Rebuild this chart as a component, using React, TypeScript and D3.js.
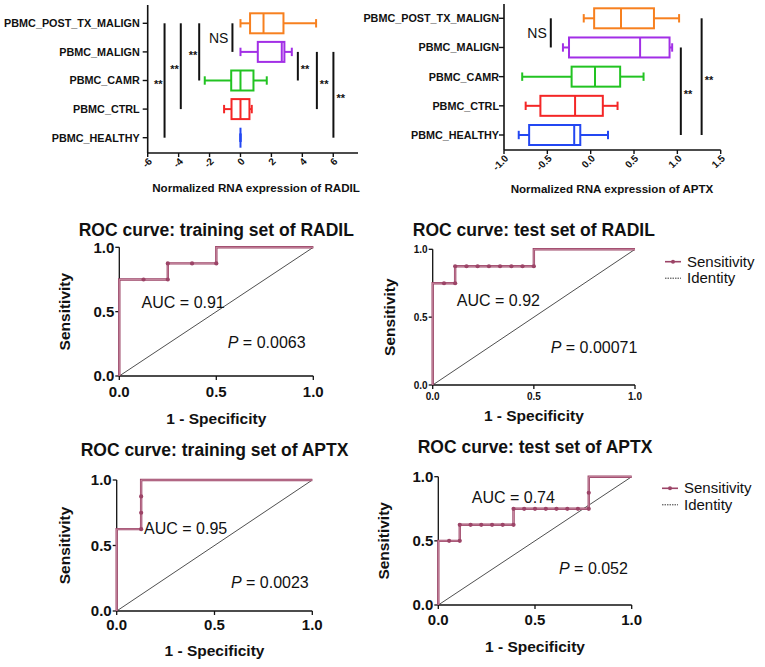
import * as React from 'react'
import * as d3 from 'd3'

const FONT = '"Liberation Sans", Arial, Helvetica, sans-serif'

// groups, top to bottom
const categories = ['PBMC_POST_TX_MALIGN', 'PBMC_MALIGN', 'PBMC_CAMR', 'PBMC_CTRL', 'PBMC_HEALTHY']
const boxColors = ['#f7801f', '#a22fe6', '#22c322', '#f42626', '#2347f2']

// [min, q1, median, q3, max] per group
const radilStats = [
    [0, 0.62, 1.49, 2.78, 4.89],
    [0, 1.12, 2.67, 2.84, 3.32],
    [-2.31, -0.6, 0, 0.84, 1.7],
    [-1.06, -0.58, 0, 0.58, 0.73],
    [0, 0, 0, 0, 0],
]
const aptxStats = [
    [-0.08, 0.04, 0.35, 0.73, 1.02],
    [-0.32, -0.25, 0.57, 0.91, 0.94],
    [-0.79, -0.22, 0.05, 0.34, 0.61],
    [-0.75, -0.58, -0.18, 0.14, 0.31],
    [-0.83, -0.71, -0.19, -0.12, 0.2],
]

// significance bars: value on x axis, from/to group index
const radilSig = [
    { x: -4.91, from: 0, to: 4, label: '**', side: 'left' },
    { x: -3.86, from: 0, to: 3, label: '**', side: 'left' },
    { x: -2.67, from: 0, to: 2, label: '**', side: 'left' },
    { x: -0.52, from: 0, to: 1, label: 'NS', side: 'left' },
    { x: 3.71, from: 1, to: 2, label: '**', side: 'right' },
    { x: 4.94, from: 1, to: 3, label: '**', side: 'right' },
    { x: 6.01, from: 1, to: 4, label: '**', side: 'right' },
]
const aptxSig = [
    { x: -0.46, from: 0, to: 1, label: 'NS', side: 'left' },
    { x: 1.04, from: 1, to: 4, label: '**', side: 'right' },
    { x: 1.28, from: 0, to: 4, label: '**', side: 'right' },
]

const radilTicks = [-6, -4, -2, 0, 2, 4, 6]
const aptxTicks = [-1, -0.5, 0, 0.5, 1, 1.5]
const rocTicks = [0, 0.5, 1]

// ROC curves (1 - specificity, sensitivity)
const radilTrainFpr = [0, 0, 0.125, 0.25, 0.25, 0.375, 0.5, 0.5, 1]
const radilTrainTpr = [0, 0.75, 0.75, 0.75, 0.875, 0.875, 0.875, 1, 1]
const radilTestFpr = [0, 0, 0.056, 0.111, 0.111, 0.167, 0.222, 0.278, 0.333, 0.389, 0.444, 0.5, 0.5, 1]
const radilTestTpr = [0, 0.75, 0.75, 0.75, 0.875, 0.875, 0.875, 0.875, 0.875, 0.875, 0.875, 0.875, 1, 1]
const aptxTrainFpr = [0, 0, 0.125, 0.125, 0.125, 0.125, 1]
const aptxTrainTpr = [0, 0.625, 0.625, 0.75, 0.875, 1, 1]
const aptxTestFpr = [0, 0, 0.056, 0.111, 0.111, 0.167, 0.222, 0.278, 0.333, 0.389, 0.389, 0.444, 0.5, 0.556, 0.611, 0.667, 0.722, 0.778, 0.778, 0.778, 1]
const aptxTestTpr = [0, 0.5, 0.5, 0.5, 0.625, 0.625, 0.625, 0.625, 0.625, 0.625, 0.75, 0.75, 0.75, 0.75, 0.75, 0.75, 0.75, 0.75, 0.875, 1, 1]

const ROC_COLOR = '#9c4467'
const ROC_INNER = '#d9a6b8'

function BoxPanel (p: any) {
    const x = d3.scaleLinear().domain(p.domain).range([p.left, p.right])
    const y = d3.scalePoint<string>().domain(categories).range([p.top, p.bottom])
    const bh = 20
    const cap = 8.4
    const fmt = p.fmt
    return <g fontFamily={FONT}>
        <line x1={p.left} x2={p.left} y1={p.axisTop} y2={p.axisY} stroke='#111' strokeWidth={1.6} />
        <line x1={p.left} x2={p.right} y1={p.axisY} y2={p.axisY} stroke='#111' strokeWidth={1.6} />
        {p.ticks.map((t: number) => <g key={t}>
            <line x1={x(t)} x2={x(t)} y1={p.axisY} y2={p.axisY + 4} stroke='#111' strokeWidth={1.4} />
            <text transform={`translate(${x(t) + 5},${p.axisY + 9}) rotate(-45)`} textAnchor='end'
                fontSize={10} fontWeight='bold' fill='#111'>{fmt(t)}</text>
        </g>)}
        {categories.map(c => <g key={c}>
            <line x1={p.left - 5} x2={p.left} y1={y(c)} y2={y(c)} stroke='#111' strokeWidth={1.4} />
            <text x={p.left - p.labelGap} y={y(c)} dy='0.36em' textAnchor='end' fontSize={10.8}
                fontWeight='bold' fill='#111'>{c}</text>
        </g>)}
        {p.stats.map((s: number[], i: number) => {
            const cy = y(categories[i]) as number
            const col = boxColors[i]
            return <g key={i} stroke={col} strokeWidth={2} fill='none'>
                <line x1={x(s[0])} x2={x(s[1])} y1={cy} y2={cy} />
                <line x1={x(s[3])} x2={x(s[4])} y1={cy} y2={cy} />
                <line x1={x(s[0])} x2={x(s[0])} y1={cy - cap / 2} y2={cy + cap / 2} />
                <line x1={x(s[4])} x2={x(s[4])} y1={cy - cap / 2} y2={cy + cap / 2} />
                <rect x={x(s[1])} y={cy - bh / 2} width={x(s[3]) - x(s[1])} height={bh} fill='#fff' />
                <line x1={x(s[2])} x2={x(s[2])} y1={cy - bh / 2} y2={cy + bh / 2} />
            </g>
        })}
        {p.sig.map((s: any, i: number) => {
            const y1 = y(categories[s.from]) as number
            const y2 = y(categories[s.to]) as number
            const mid = (y1 + y2) / 2
            const ns = s.label === 'NS'
            return <g key={i}>
                <line x1={x(s.x)} x2={x(s.x)} y1={y1} y2={y2} stroke='#111' strokeWidth={2} />
                <text x={s.side === 'left' ? x(s.x) - (ns ? 4 : 2) : x(s.x) + 3}
                    y={ns ? mid + 5 : mid + 7}
                    textAnchor={s.side === 'left' ? 'end' : 'start'}
                    fontSize={ns ? 14 : 11} fontWeight={ns ? 'normal' : 'bold'} fill='#111'>{s.label}</text>
            </g>
        })}
        <text x={p.titleX} y={p.titleY} textAnchor='middle' fontSize={11.6} fontWeight='bold' fill='#111'>{p.title}</text>
    </g>
}

function RocPanel (p: any) {
    const x = d3.scaleLinear().domain([0, 1]).range([p.left, p.right])
    const y = d3.scaleLinear().domain([0, 1]).range([p.bottom, p.top])
    const pts: [number, number][] = p.fpr.map((v: number, i: number) => [v, p.tpr[i]])
    const line = d3.line<[number, number]>().x(d => x(d[0])).y(d => y(d[1]))
    const dots = pts.slice(2, pts.length - 2)
    const fs = p.tickFont
    const midY = (p.top + p.bottom) / 2
    const midX = (p.left + p.right) / 2
    return <g fontFamily={FONT} fill='#111'>
        <text x={midX} y={p.titleY} textAnchor='middle' fontSize={17.5} fontWeight='bold'>{p.title}</text>
        <path d={line([[0, 0], [1, 1]]) || ''} stroke='#222' strokeWidth={0.8} fill='none' />
        <line x1={p.left} x2={p.left} y1={p.top} y2={p.bottom} stroke='#111' strokeWidth={1.3} />
        <line x1={p.left} x2={p.right} y1={p.bottom} y2={p.bottom} stroke='#111' strokeWidth={1.3} />
        {rocTicks.map(t => <g key={t}>
            <line x1={x(t)} x2={x(t)} y1={p.bottom} y2={p.bottom + 4} stroke='#111' strokeWidth={1.3} />
            <line x1={p.left - 4} x2={p.left} y1={y(t)} y2={y(t)} stroke='#111' strokeWidth={1.3} />
            <text x={x(t)} y={p.bottom + p.xLabOff} textAnchor='middle' fontSize={fs} fontWeight='bold'>{t.toFixed(1)}</text>
            <text x={p.left - 5} y={y(t)} dy='0.36em' textAnchor='end' fontSize={fs} fontWeight='bold'>{t.toFixed(1)}</text>
        </g>)}
        <path d={line(pts) || ''} stroke={ROC_COLOR} strokeWidth={2.4} fill='none' />
        <path d={line(pts) || ''} stroke={ROC_INNER} strokeWidth={0.7} fill='none' />
        {dots.map((d, i) => <circle key={i} cx={x(d[0])} cy={y(d[1])} r={2.1} fill={ROC_COLOR} />)}
        <text x={x(p.aucPos[0])} y={y(p.aucPos[1])} fontSize={16}>{p.auc}</text>
        <text x={x(p.pPos[0])} y={y(p.pPos[1])} fontSize={16}><tspan fontStyle='italic'>P</tspan>{' = ' + p.pval}</text>
        <text transform={`translate(${p.yTitleX},${midY}) rotate(-90)`} textAnchor='middle' fontSize={15.5} fontWeight='bold'>Sensitivity</text>
        <text x={midX} y={p.xTitleY} textAnchor='middle' fontSize={15.5} fontWeight='bold'>1 - Specificity</text>
        {p.legend && <g>
            <line x1={p.legend[0]} x2={p.legend[0] + 16} y1={p.legend[1]} y2={p.legend[1]} stroke={ROC_COLOR} strokeWidth={1.6} />
            <circle cx={p.legend[0] + 8} cy={p.legend[1]} r={2} fill={ROC_COLOR} />
            <text x={p.legend[0] + 22} y={p.legend[1] + 5} fontSize={15}>Sensitivity</text>
            <line x1={p.legend[0]} x2={p.legend[0] + 16} y1={p.legend[1] + 16.5} y2={p.legend[1] + 16.5}
                stroke='#222' strokeWidth={0.9} strokeDasharray='1.5,1' />
            <text x={p.legend[0] + 22} y={p.legend[1] + 21.5} fontSize={15}>Identity</text>
        </g>}
    </g>
}

export default function App () {
    return <svg width={765} height={667} style={{ position: 'absolute', left: 0, top: 0, background: '#fff' }}>
        <rect width={765} height={667} fill='#fff' />
        <BoxPanel stats={radilStats} sig={radilSig} left={147.7} right={358} top={23.3} bottom={137.7}
            axisTop={5} axisY={153} domain={[-6, 7.6]} ticks={radilTicks} fmt={(t: number) => String(t)}
            labelGap={8} title='Normalized RNA expression of RADIL' titleX={256} titleY={191.5} />
        <BoxPanel stats={aptxStats} sig={aptxSig} left={504} right={720.7} top={18.3} bottom={135}
            axisTop={4} axisY={150} domain={[-1, 1.5]} ticks={aptxTicks} fmt={(t: number) => t.toFixed(1)}
            labelGap={5} title='Normalized RNA expression of APTX' titleX={612} titleY={193} />
        <RocPanel title='ROC curve: training set of RADIL' fpr={radilTrainFpr} tpr={radilTrainTpr}
            left={119.3} right={313.3} top={247.3} bottom={376} titleY={236} tickFont={15} xLabOff={20.5}
            auc='AUC = 0.91' aucPos={[0.115, 0.526]} pval='0.0063' pPos={[0.559, 0.215]}
            yTitleX={70} xTitleY={424} />
        <RocPanel title='ROC curve: test set of RADIL' fpr={radilTestFpr} tpr={radilTestTpr}
            left={432.7} right={635} top={249.3} bottom={385} titleY={236} tickFont={10} xLabOff={15}
            auc='AUC = 0.92' aucPos={[0.119, 0.582]} pval='0.00071' pPos={[0.583, 0.238]}
            yTitleX={395} xTitleY={421} legend={[665, 261.7]} />
        <RocPanel title='ROC curve: training set of APTX' fpr={aptxTrainFpr} tpr={aptxTrainTpr}
            left={116.7} right={312.3} top={480} bottom={611} titleY={456} tickFont={15} xLabOff={19}
            auc='AUC = 0.95' aucPos={[0.14, 0.585]} pval='0.0023' pPos={[0.584, 0.173]}
            yTitleX={70} xTitleY={656} />
        <RocPanel title='ROC curve: test set of APTX' fpr={aptxTestFpr} tpr={aptxTestTpr}
            left={438.3} right={631.7} top={476.7} bottom={605} titleY={452.7} tickFont={15} xLabOff={20}
            auc='AUC = 0.74' aucPos={[0.173, 0.793]} pval='0.052' pPos={[0.624, 0.242]}
            yTitleX={389} xTitleY={652} legend={[662, 488.3]} />
    </svg>
}
